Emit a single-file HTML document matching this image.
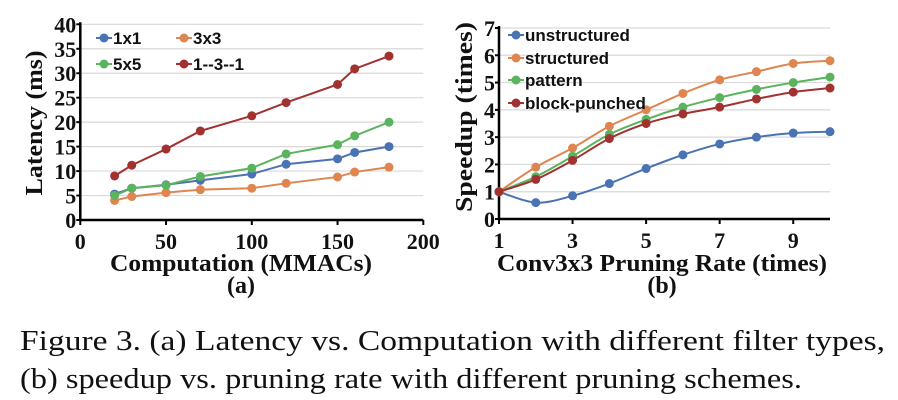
<!DOCTYPE html>
<html><head><meta charset="utf-8"><style>
body{margin:0;background:#fff;width:898px;height:400px;overflow:hidden}
svg{display:block}
.tk{font:bold 22px "Liberation Serif",serif;fill:#111}
.tt{font:bold 24px "Liberation Serif",serif;fill:#111}
.lg{font:bold 17px "Liberation Sans",sans-serif;fill:#111}
.cap{font:28px "Liberation Serif",serif;fill:#111}
</style></head><body>
<svg id="fig" width="898" height="400">
<g id="ca"></g>
<g id="cb"></g>
<text class="cap" x="20" y="350" textLength="865" lengthAdjust="spacingAndGlyphs">Figure 3. (a) Latency vs.  Computation with different filter types,</text>
<text class="cap" x="20" y="388" textLength="782" lengthAdjust="spacingAndGlyphs">(b) speedup vs. pruning rate with different pruning schemes.</text>
</svg>
<script>
const aX=[20,30,50,70,100,120,150,160,180];
const a1x1=[5.3,6.5,7.2,8.1,9.4,11.4,12.5,13.8,15];
const a3x3=[4,4.8,5.6,6.2,6.5,7.5,8.8,9.8,10.8];
const a5x5=[5,6.5,7.1,8.9,10.6,13.5,15.4,17.2,20];
const a131=[9,11.2,14.5,18.2,21.3,24,27.7,30.9,33.5];
const aXTicks=[0,50,100,150,200];
const aYTicks=[0,5,10,15,20,25,30,35,40];
const bX=[1,2,3,4,5,6,7,8,9,10];
const bUnstr=[1,0.6,0.85,1.3,1.85,2.35,2.75,3,3.15,3.2];
const bStr=[1,1.9,2.6,3.4,4,4.6,5.1,5.4,5.7,5.8];
const bPat=[1,1.55,2.3,3.1,3.65,4.1,4.45,4.75,5,5.2];
const bBlock=[1,1.45,2.15,2.95,3.5,3.85,4.1,4.4,4.65,4.8];
const bXTicks=[1,3,5,7,9];
const bYTicks=[0,1,2,3,4,5,6,7];
const C={blue:'#4a73b4',orange:'#df8550',green:'#5bb35d',red:'#a23131'};
const NS='http://www.w3.org/2000/svg';
function el(p,t,a){const e=document.createElementNS(NS,t);for(const k in a)e.setAttribute(k,a[k]);p.appendChild(e);return e;}
function smooth(pts){let d='M'+pts[0][0]+','+pts[0][1];for(let i=0;i<pts.length-1;i++){const p0=pts[i-1]||pts[i],p1=pts[i],p2=pts[i+1],p3=pts[i+2]||p2;
const c1=[p1[0]+(p2[0]-p0[0])/6,p1[1]+(p2[1]-p0[1])/6],c2=[p2[0]-(p3[0]-p1[0])/6,p2[1]-(p3[1]-p1[1])/6];d+=' C'+c1+' '+c2+' '+p2;}return d;}
function chart(g,o){
 const sx=v=>o.x0+(v-o.xmin)/(o.xmax-o.xmin)*(o.x1-o.x0), sy=v=>o.y0-(v-o.ymin)/(o.ymax-o.ymin)*(o.y0-o.y1);
 o.yt.forEach(v=>{if(v>0){const l=el(g,'line',{x1:o.x0,x2:o.x1,y1:sy(v),y2:sy(v),stroke:'#d9d9d9','stroke-width':1.2});
 
 }
 const t=el(g,'text',{x:o.x0-4,y:sy(v)+8,'text-anchor':'end',class:'tk'});t.textContent=v;
 
 
 el(g,'line',{x1:o.x0-4,x2:o.x0,y1:sy(v),y2:sy(v),stroke:'#000','stroke-width':2});});
 o.xt.forEach(v=>{el(g,'line',{x1:sx(v),x2:sx(v),y1:o.y0,y2:o.y0+5,stroke:'#000','stroke-width':2});
 const t=el(g,'text',{x:sx(v),y:o.y0+29,'text-anchor':'middle',class:'tk'});t.textContent=v;
 
 });
 const ax=el(g,'path',{d:`M${o.x0},${o.y1-2}V${o.y0}H${o.x1}`,fill:'none',stroke:'#000','stroke-width':2.5});
 
 
 o.series.forEach(s=>{const pts=o.xs.map((x,i)=>[sx(x),sy(s.v[i])]);
 const p=el(g,'path',{d:o.smooth?smooth(pts):'M'+pts.join('L'),fill:'none',stroke:s.c,'stroke-width':2});
 
 
 pts.forEach(q=>{const c=el(g,'circle',{cx:q[0],cy:q[1],r:4.5,fill:s.c});
 
 });
 const lx=s.lx,ly=s.ly;el(g,'line',{x1:lx,x2:lx+16,y1:ly,y2:ly,stroke:s.c,'stroke-width':2});el(g,'circle',{cx:lx+8,cy:ly,r:4.5,fill:s.c});
 const t=el(g,'text',{x:lx+17,y:ly+6,class:'lg'});t.textContent=s.label;
 
 });
 const xt=el(g,'text',{x:o.xtx-o.xtw/2,y:271,class:'tt',textLength:o.xtw,lengthAdjust:'spacingAndGlyphs'});xt.textContent=o.xtitle;
 
 
 const sub=el(g,'text',{x:o.xtx,y:293,'text-anchor':'middle',class:'tt'});sub.textContent=o.sub;
 
 
 const yt=el(g,'text',{x:-o.ytw/2,y:0,class:'tt',textLength:o.ytw,lengthAdjust:'spacingAndGlyphs',transform:`translate(${o.ytx},${o.yty}) rotate(-90)`});yt.textContent=o.ytitle;
 
 
}
chart(document.getElementById('ca'),{x0:80.3,x1:423.3,y0:220,y1:24.3,xmin:0,xmax:200,ymin:0,ymax:40,xt:aXTicks,yt:aYTicks,xs:aX,smooth:false,
 xtitle:'Computation (MMACs)',xtw:262,sub:'(a)',xtx:241,ytitle:'Latency (ms)',ytw:145,ytx:42,yty:123,
 series:[{n:'1x1',label:'1x1',v:a1x1,c:C.blue,lx:96,ly:38},{n:'3x3',label:'3x3',v:a3x3,c:C.orange,lx:176,ly:38},
 {n:'5x5',label:'5x5',v:a5x5,c:C.green,lx:96,ly:64},{n:'1-3-1',label:'1--3--1',v:a131,c:C.red,lx:176,ly:64}]});
chart(document.getElementById('cb'),{x0:499,x1:830,y0:219,y1:28,xmin:1,xmax:10,ymin:0,ymax:7,xt:bXTicks,yt:bYTicks,xs:bX,smooth:true,
 xtitle:'Conv3x3 Pruning Rate (times)',xtw:330,sub:'(b)',xtx:662,ytitle:'Speedup (times)',ytw:190,ytx:472,yty:117,
 series:[{n:'unstructured',label:'unstructured',v:bUnstr,c:C.blue,lx:508,ly:35},{n:'structured',label:'structured',v:bStr,c:C.orange,lx:508,ly:58},
 {n:'pattern',label:'pattern',v:bPat,c:C.green,lx:508,ly:80},{n:'block-punched',label:'block-punched',v:bBlock,c:C.red,lx:508,ly:103}]});
</script>
</body></html>
